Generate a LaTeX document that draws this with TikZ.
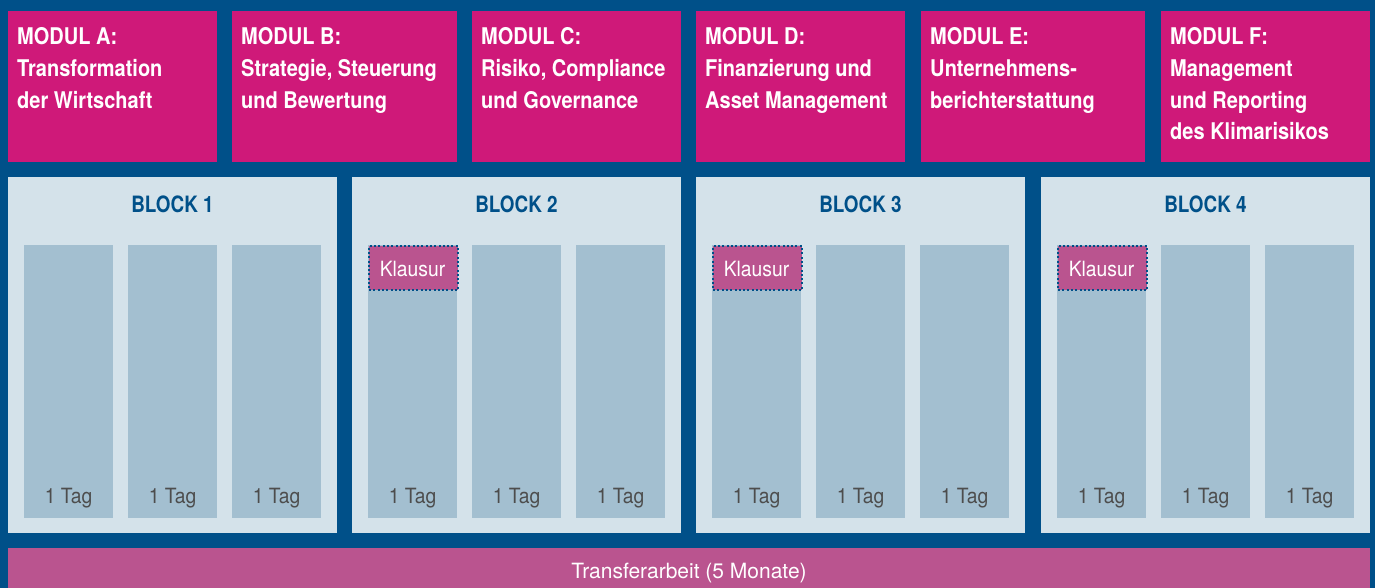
\documentclass[tikz,border=0pt]{standalone}
\usepackage{fontspec}
\setmainfont{TeX Gyre Heros}
\newfontfamily\modfont[FakeStretch=0.87]{TeX Gyre Heros}
\newfontfamily\blkfont[FakeStretch=0.84]{TeX Gyre Heros}
\newfontfamily\regfont[FakeStretch=0.92]{TeX Gyre Heros}
\definecolor{bgblue}{HTML}{005089}
\definecolor{modmag}{HTML}{CF1979}
\definecolor{blklight}{HTML}{D4E2EA}
\definecolor{colblue}{HTML}{A3BFD0}
\definecolor{klmag}{HTML}{BA548F}
\definecolor{taggray}{HTML}{4D4D4D}
\tikzset{
  modbox/.style={fill=modmag, draw=none, inner sep=0, anchor=north west, minimum width=#1, minimum height=151pt},
  modtext/.style={text=white, inner sep=0, anchor=base west, align=left, font=\modfont\bfseries\fontsize{23}{31.6}\selectfont},
  blkbox/.style={fill=blklight, draw=none, inner sep=0, anchor=north west, minimum width=329pt, minimum height=355.5pt},
  blkhead/.style={text=bgblue, inner sep=0, anchor=base, font=\blkfont\bfseries\fontsize{22.5}{27}\selectfont},
  colbox/.style={fill=colblue, draw=none, inner sep=0, anchor=north west, minimum width=89pt, minimum height=273pt},
  tagtext/.style={text=taggray, inner sep=0, anchor=base, font=\regfont\fontsize{21}{25}\selectfont},
  klbox/.style={fill=klmag, draw=bgblue, line width=2pt, dash pattern=on 2pt off 2.3pt, inner sep=0, anchor=north west, minimum width=89pt, minimum height=44pt},
  kltext/.style={text=white, inner sep=0, anchor=base, font=\regfont\fontsize{21}{25}\selectfont},
  transbox/.style={fill=klmag, draw=none, inner sep=0, anchor=north west, minimum width=1362pt, minimum height=40pt},
  transtext/.style={text=white, inner sep=0, anchor=base, font=\fontsize{21}{25}\selectfont}
}
\begin{document}
\begin{tikzpicture}[x=1pt,y=-1pt]
\fill[bgblue] (0,0) rectangle (1375,588);
\useasboundingbox (0,0) rectangle (1375,588);
% modules
\node[modbox=209pt] (mA) at (8,11) {};
\node[modbox=225pt] (mB) at (232,11) {};
\node[modbox=209pt] (mC) at (472,11) {};
\node[modbox=209pt] (mD) at (696,11) {};
\node[modbox=224pt] (mE) at (921,11) {};
\node[modbox=209pt] (mF) at (1161,11) {};
% anchor = baseline of the last line (first baseline at y=45, line step 31.6)
\node[modtext] (tA) at (17,108.2) {MODUL A:\\Transformation\\der Wirtschaft};
\node[modtext] (tB) at (241,108.2) {MODUL B:\\Strategie, Steuerung\\und Bewertung};
\node[modtext] (tC) at (481,108.2) {MODUL C:\\Risiko, Compliance\\und Governance};
\node[modtext] (tD) at (705,108.2) {MODUL D:\\Finanzierung und\\Asset Management};
\node[modtext] (tE) at (930,108.2) {MODUL E:\\Unternehmens-\\berichterstattung};
\node[modtext] (tF) at (1170,139.8) {MODUL F:\\Management\\und Reporting\\des Klimarisikos};
% blocks
\foreach \bx/\n in {8/1,352/2,696/3,1041/4}{
  \node[blkbox] (b\n) at (\bx,177) {};
  \node[blkhead] (bh\n) at (\bx+164.5,212) {BLOCK \n};
  \foreach \c/\off in {1/16,2/120,3/224}{
    \node[colbox] (c\n\c) at (\bx+\off,245) {};
    \node[tagtext] (t\n\c) at (\bx+\off+44.5,503) {1 Tag};
  }
}
% Klausur
\foreach \n/\bx in {2/352,3/696,4/1041}{
  \node[klbox] (k\n) at (\bx+16,245) {};
  \node[kltext] (kt\n) at (\bx+60.5,276.5) {Klausur};
}
% transfer
\node[transbox] (tr) at (8,548) {};
\node[transtext] (trt) at (689,578) {Transferarbeit (5 Monate)};
\end{tikzpicture}
\end{document}
